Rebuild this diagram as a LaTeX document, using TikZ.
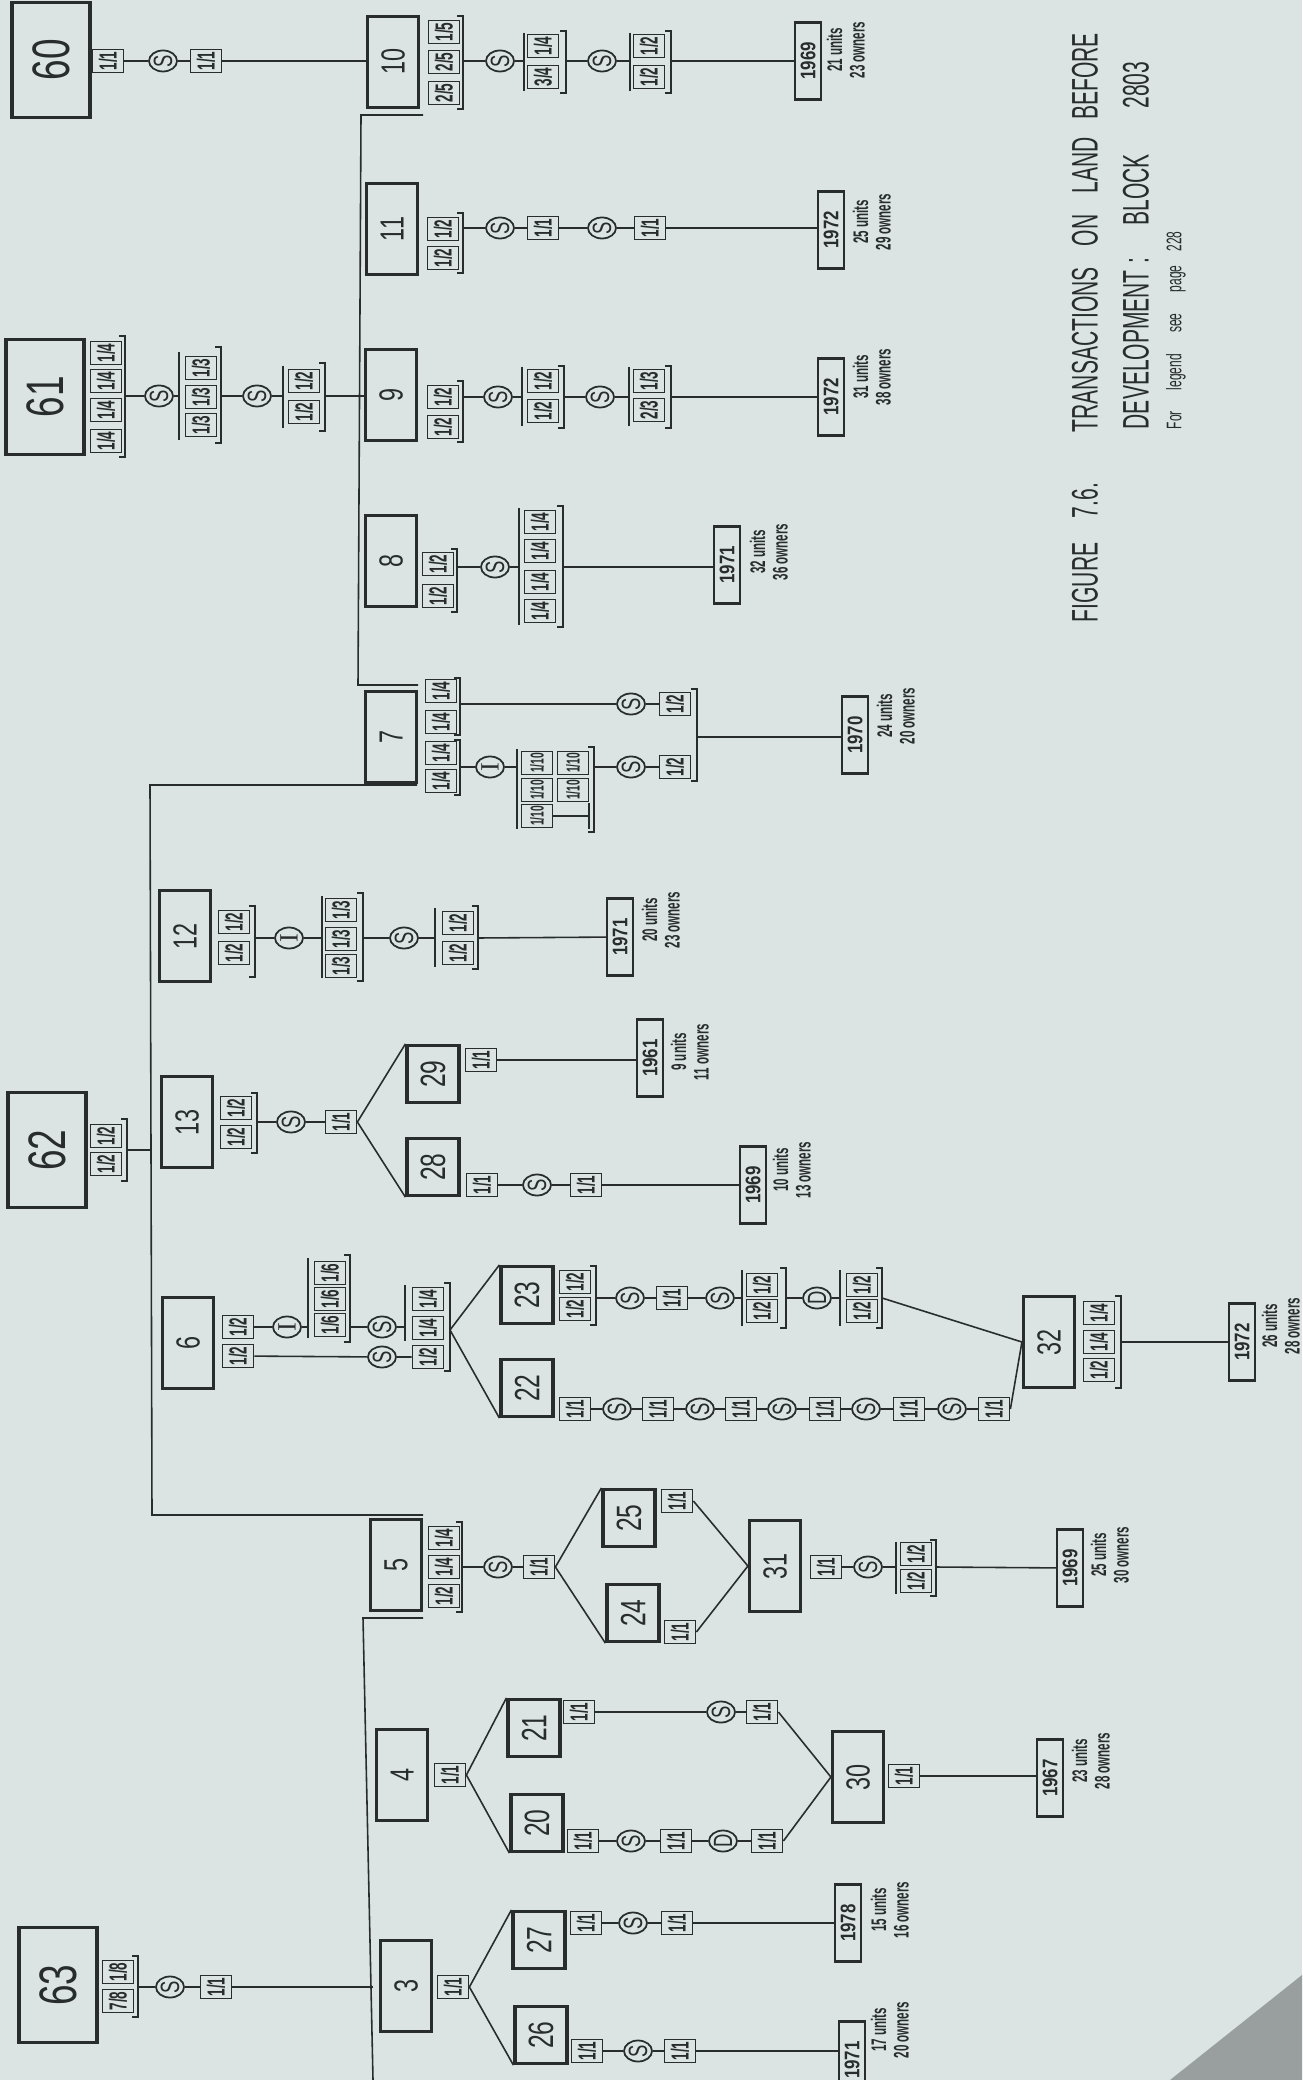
\documentclass[tikz,border=0pt]{standalone}
\usepackage{fontspec}
\setmainfont{Liberation Sans}
\newfontfamily\numfont[FakeStretch=0.7]{Liberation Sans}
\newfontfamily\fracfont[FakeStretch=0.55]{Liberation Sans}
\newfontfamily\yearfont[FakeStretch=0.8]{Liberation Sans}
\newfontfamily\titlefont[FakeStretch=0.57]{Liberation Sans}
\newfontfamily\serfont{Liberation Serif}
\usetikzlibrary{shapes.geometric}

\definecolor{paper}{RGB}{219,227,227}
\definecolor{ink}{RGB}{40,44,44}

% fraction groups: bar in front, bracket behind
\newcommand{\grpleft}[3]{\draw (#1,#2) -- (#1,#3);}
\newcommand{\grpright}[3]{\draw (#1-6,#2) -- (#1,#2) -- (#1,#3) -- (#1-6,#3);}

\tikzset{
  bigbox/.style={draw=ink,line width=1.1pt,rotate=90,minimum width=1.15cm,minimum height=0.78cm,
    font=\fontsize{15}{15}\selectfont\numfont},
  plotbox/.style={draw=ink,line width=0.6pt,rotate=90,minimum width=0.91cm,minimum height=0.51cm,
    font=\fontsize{9.5}{9.5}\selectfont\numfont},
  lotbox/.style={draw=ink,line width=0.9pt,rotate=90,minimum width=0.57cm,minimum height=0.52cm,
    font=\fontsize{10}{10}\selectfont\numfont},
  frac/.style={draw=ink,line width=0.5pt,rotate=90,inner sep=0.5pt,minimum width=0.23cm,minimum height=0.31cm,
    font=\fontsize{7}{7}\selectfont\fracfont\bfseries},
  tenth/.style={frac,inner sep=0pt,font=\fontsize{5.3}{5.3}\selectfont\fracfont\bfseries},
  event/.style={draw=ink,line width=0.5pt,ellipse,rotate=90,inner sep=0pt,minimum width=0.21cm,minimum height=0.28cm,
    font=\fontsize{7.5}{7.5}\selectfont\numfont},
  yearbox/.style={draw=ink,line width=0.6pt,rotate=90,inner sep=0pt,minimum width=0.77cm,minimum height=0.26cm,
    font=\fontsize{6}{6}\selectfont\yearfont\bfseries},
  note/.style={rotate=90,anchor=north,inner sep=0pt,align=center,
    font=\fontsize{6}{6.4}\selectfont\fracfont\bfseries},
  caption/.style={rotate=90,anchor=west,inner sep=0pt,font=\fontsize{10.5}{10.5}\selectfont\titlefont}
}

\begin{document}
\begin{tikzpicture}[x=0.01cm,y=-0.01cm,line width=0.45pt,color=ink]
\useasboundingbox (0,0) rectangle (1302,2080);
\fill[paper] (0,0) rectangle (1302,2080);
\fill[paper!70!black] (1170,2080) -- (1302,1975) -- (1302,2080) -- cycle;
\clip (0,0) rectangle (1302,2080);

% ---- 60 -> 10
\node[bigbox] (b60) at (51,60) {60};
\node[frac] (f60a) at (108,61) {1/1};
\node[event] (s60) at (163,61) {S};
\node[frac] (f60b) at (206,61) {1/1};
\node[plotbox] (b10) at (393,62) {10};
\draw (f60a) -- (s60) -- (f60b) -- (f60b -| b10.north);

\node[frac] (f10a) at (444,93) {2/5};
\node[frac] (f10b) at (444,62) {2/5};
\node[frac] (f10c) at (444,32) {1/5};
\grpright{463}{16}{109}
\coordinate (g10a) at (463,61);
\node[event] (s10a) at (500,61) {S};
\node[frac] (f10d) at (543,77) {3/4};
\node[frac] (f10e) at (543,46) {1/4};
\grpleft{524}{33}{91} \grpright{566}{31}{93}
\coordinate (g10b-in) at (524,61); \coordinate (g10b-out) at (566,61);
\node[event] (s10b) at (602,61) {S};
\node[frac] (f10f) at (649,77) {1/2};
\node[frac] (f10g) at (649,46) {1/2};
\grpleft{630}{33}{91} \grpright{671}{31}{93}
\coordinate (g10c-in) at (630,61); \coordinate (g10c-out) at (671,61);
\node[yearbox] (y10) at (808,61) {1969};
\node[note] (n10) at (826,50) {21 units\\23 owners};
\draw (g10a) -- (s10a) -- (g10b-in);
\draw (g10b-out) -- (s10b) -- (g10c-in);
\draw (g10c-out) -- (y10);

% ---- 11
\node[plotbox] (b11) at (392,229) {11};
\node[frac] (f11a) at (443,229) {1/2};
\node[frac] (f11b) at (443,258) {1/2};
\grpright{463}{213}{273}
\coordinate (g11) at (463,228);
\node[event] (s11a) at (500,228) {S};
\node[frac] (f11c) at (543,228) {1/1};
\node[event] (s11b) at (602,228) {S};
\node[frac] (f11d) at (650,228) {1/1};
\node[yearbox] (y11) at (831,230) {1972};
\node[note] (n11) at (852,222) {25 units\\29 owners};
\draw (g11) -- (s11a) -- (f11c) -- (s11b) -- (f11d) -- (f11d -| y11.north);

% ---- 61 -> 9
\node[bigbox] (b61) at (45,397) {61};
\node[frac] (f61a) at (106,441) {1/4};
\node[frac] (f61b) at (106,410) {1/4};
\node[frac] (f61c) at (106,381) {1/4};
\node[frac] (f61d) at (106,353) {1/4};
\grpright{125}{336}{457}
\coordinate (g61a) at (125,396);
\node[event] (s61a) at (159,396) {S};
\node[frac] (f61e) at (201,425) {1/3};
\node[frac] (f61f) at (201,397) {1/3};
\node[frac] (f61g) at (201,368) {1/3};
\grpleft{179}{352}{440} \grpright{221}{347}{443}
\coordinate (g61b-in) at (179,396); \coordinate (g61b-out) at (221,396);
\node[event] (s61b) at (257,396) {S};
\node[frac] (f61h) at (304,412) {1/2};
\node[frac] (f61i) at (304,381) {1/2};
\grpleft{283}{366}{428} \grpright{325}{363}{431}
\coordinate (g61c-in) at (283,396); \coordinate (g61c-out) at (325,396);
\node[plotbox] (b9) at (391,395) {9};
\draw (g61a) -- (s61a) -- (g61b-in);
\draw (g61b-out) -- (s61b) -- (g61c-in);
\draw (g61c-out) -- (g61c-out -| b9.north);

\node[frac] (f9a) at (443,397) {1/2};
\node[frac] (f9b) at (443,427) {1/2};
\grpright{463}{381}{442}
\coordinate (g9a) at (463,397);
\node[event] (s9a) at (498,397) {S};
\node[frac] (f9c) at (543,411) {1/2};
\node[frac] (f9d) at (543,381) {1/2};
\grpleft{522}{367}{426} \grpright{564}{366}{428}
\coordinate (g9b-in) at (522,397); \coordinate (g9b-out) at (564,397);
\node[event] (s9b) at (600,397) {S};
\node[frac] (f9e) at (649,410) {2/3};
\node[frac] (f9f) at (649,381) {1/3};
\grpleft{629}{367}{426} \grpright{671}{366}{428}
\coordinate (g9c-in) at (629,397); \coordinate (g9c-out) at (671,397);
\node[yearbox] (y9) at (831,397) {1972};
\node[note] (n9) at (852,377) {31 units\\38 owners};
\draw (g9a) -- (s9a) -- (g9b-in);
\draw (g9b-out) -- (s9b) -- (g9c-in);
\draw (g9c-out) -- (y9);

% ---- 8
\node[plotbox] (b8) at (391,561) {8};
\node[frac] (f8a) at (438,564) {1/2};
\node[frac] (f8b) at (438,596) {1/2};
\grpright{457}{549}{612}
\coordinate (g8a) at (457,567);
\node[event] (s8) at (495,567) {S};
\node[frac] (f8c) at (540,611) {1/4};
\node[frac] (f8d) at (540,582) {1/4};
\node[frac] (f8e) at (540,551) {1/4};
\node[frac] (f8f) at (540,522) {1/4};
\grpleft{519}{508}{625} \grpright{563}{506}{627}
\coordinate (g8b-in) at (519,567); \coordinate (g8b-out) at (563,567);
\node[yearbox] (y8) at (727,565) {1971};
\node[note] (n8) at (749,552) {32 units\\36 owners};
\draw (g8a) -- (s8) -- (g8b-in);
\draw (g8b-out) -- (g8b-out -| y8.north);

% ---- trunk 10..7
\coordinate (k10) at (423,115);
\coordinate (t1) at (361,115);
\coordinate (t2) at (358,685);
\coordinate (k7) at (418,685);
\draw (k10) -- (t1) -- (t2) -- (k7);

% ---- 7
\node[plotbox] (b7) at (391,737) {7};
\node[frac] (f7a) at (441,691) {1/4};
\node[frac] (f7b) at (441,722) {1/4};
\node[frac] (f7c) at (441,753) {1/4};
\node[frac] (f7d) at (441,781) {1/4};
\grpright{460}{678}{735} \grpright{460}{740}{795}
\coordinate (g7a) at (460,704);
\coordinate (g7b) at (460,767);
\node[event] (s7a) at (631,704) {S};
\node[frac] (f7e) at (675,704) {1/2};
\node[event] (i7) at (490,767) {\serfont I};
\node[tenth] (f7f) at (537,763) {1/10};
\node[tenth] (f7g) at (537,790) {1/10};
\node[tenth] (f7h) at (537,816) {1/10};
\node[tenth] (f7i) at (573,763) {1/10};
\node[tenth] (f7j) at (573,790) {1/10};
\coordinate (k7h) at (589,816);
\draw (f7h.south) -- (k7h);
\draw (589,803) -- (589,829);
\grpleft{517}{749}{829} \grpright{594}{747}{832}
\coordinate (g7c-in) at (517,767); \coordinate (g7c-out) at (594,767);
\node[event] (s7b) at (631,767) {S};
\node[frac] (f7k) at (675,767) {1/2};
\grpright{697}{689}{781}
\coordinate (g7d) at (697,737);
\node[yearbox] (y7) at (855,735) {1970};
\node[note] (n7) at (876,716) {24 units\\20 owners};
\draw (g7a) -- (s7a) -- (f7e);
\draw (g7b) -- (i7) -- (g7c-in);
\draw (g7c-out) -- (s7b) -- (f7k);
\draw (g7d) -- (g7d -| y7.north);

% ---- trunk 7..5
\coordinate (k7b) at (417,785);
\coordinate (t3) at (150,785);
\coordinate (t4) at (152,1515);
\coordinate (k5) at (423,1515);
\draw (k7b) -- (t3) -- (t4) -- (k5);

% ---- 12
\node[plotbox] (b12) at (185,936) {12};
\node[frac] (f12a) at (234,953) {1/2};
\node[frac] (f12b) at (234,922) {1/2};
\grpright{255}{906}{977}
\coordinate (g12a) at (255,938);
\node[event] (i12) at (289,938) {\serfont I};
\node[frac] (f12c) at (341,966) {1/3};
\node[frac] (f12d) at (341,939) {1/3};
\node[frac] (f12e) at (341,910) {1/3};
\grpleft{322}{896}{978} \grpright{363}{893}{981}
\coordinate (g12b-in) at (322,938); \coordinate (g12b-out) at (363,938);
\node[event] (s12) at (404,938) {S};
\node[frac] (f12f) at (458,953) {1/2};
\node[frac] (f12g) at (458,923) {1/2};
\grpleft{435}{908}{967} \grpright{478}{906}{969}
\coordinate (g12c-in) at (435,938); \coordinate (g12c-out) at (478,938);
\node[yearbox] (y12) at (620,937) {1971};
\node[note] (n12) at (641,920) {20 units\\23 owners};
\draw (g12a) -- (i12) -- (g12b-in);
\draw (g12b-out) -- (s12) -- (g12c-in);
\draw (g12c-out) -- (y12);

% ---- 62
\node[bigbox] (b62) at (47,1150) {62};
\node[frac] (f62a) at (106,1164) {1/2};
\node[frac] (f62b) at (106,1136) {1/2};
\grpright{127}{1119}{1181}
\coordinate (g62) at (127,1150);
\draw (g62) -- (g62 -| t4);

% ---- 13
\node[plotbox] (b13) at (187,1122) {13};
\node[frac] (f13a) at (236,1137) {1/2};
\node[frac] (f13b) at (236,1108) {1/2};
\grpright{257}{1093}{1153}
\coordinate (g13) at (257,1122);
\node[event] (s13) at (291,1122) {S};
\node[frac] (f13c) at (341,1122) {1/1};
\draw (g13) -- (s13) -- (f13c);
\node[lotbox] (b29) at (433,1074) {29};
\node[lotbox] (b28) at (433,1167) {28};
\draw (b29.north east) -- (f13c.south) -- (b28.north west);
\node[frac] (f29) at (481,1060) {1/1};
\node[yearbox] (y29) at (650,1058) {1961};
\node[note] (n29) at (670,1052) {9 units\\11 owners};
\draw (f29) -- (f29 -| y29.north);
\node[frac] (f28a) at (482,1185) {1/1};
\node[event] (s28) at (537,1185) {S};
\node[frac] (f28b) at (586,1185) {1/1};
\node[yearbox] (y28) at (753,1185) {1969};
\node[note] (n28) at (772,1170) {10 units\\13 owners};
\draw (f28a) -- (s28) -- (f28b) -- (y28);

% ---- 6
\node[plotbox] (b6) at (188,1343) {6};
\node[frac] (f6a) at (238,1327) {1/2};
\node[frac] (f6b) at (238,1356) {1/2};
\node[event] (i6) at (287,1327) {\serfont I};
\node[frac] (f6c) at (330,1325) {1/6};
\node[frac] (f6d) at (330,1299) {1/6};
\node[frac] (f6e) at (330,1273) {1/6};
\grpleft{308}{1258}{1338} \grpright{350}{1255}{1342}
\coordinate (g6a-in) at (308,1327); \coordinate (g6a-out) at (350,1327);
\node[event] (s6a) at (382,1327) {S};
\node[frac] (f6f) at (428,1328) {1/4};
\node[frac] (f6g) at (428,1299) {1/4};
\grpleft{405}{1285}{1341}
\coordinate (g6b-in) at (405,1327);
\node[event] (s6b) at (382,1357) {S};
\node[frac] (f6h) at (428,1357) {1/2};
\grpright{450}{1283}{1371}
\coordinate (g6c) at (450,1330);
\draw (f6a) -- (i6) -- (g6a-in);
\draw (g6a-out) -- (s6a) -- (g6b-in);
\draw (f6b) -- (s6b) -- (f6h);
\node[lotbox] (b23) at (527,1295) {23};
\node[lotbox] (b22) at (527,1388) {22};
\draw (b23.north east) -- (g6c) -- (b22.north west);

% ---- 23
\node[frac] (f23a) at (575,1309) {1/2};
\node[frac] (f23b) at (575,1282) {1/2};
\grpright{596}{1266}{1325}
\coordinate (g23a) at (596,1298);
\node[event] (s23a) at (630,1298) {S};
\node[frac] (f23c) at (672,1298) {1/1};
\node[event] (s23b) at (720,1298) {S};
\node[frac] (f23d) at (762,1311) {1/2};
\node[frac] (f23e) at (762,1285) {1/2};
\grpleft{742}{1270}{1326} \grpright{786}{1268}{1328}
\coordinate (g23b-in) at (742,1298); \coordinate (g23b-out) at (786,1298);
\node[event] (d23) at (817,1298) {D};
\node[frac] (f23f) at (862,1311) {1/2};
\node[frac] (f23g) at (862,1285) {1/2};
\grpleft{840}{1270}{1326} \grpright{882}{1268}{1328}
\coordinate (g23c-in) at (840,1298); \coordinate (g23c-out) at (882,1298);
\draw (g23a) -- (s23a) -- (f23c) -- (s23b) -- (g23b-in);
\draw (g23b-out) -- (d23) -- (g23c-in);

% ---- 22
\node[frac] (f22a) at (575,1409) {1/1};
\node[event] (s22a) at (617,1409) {S};
\node[frac] (f22b) at (658,1409) {1/1};
\node[event] (s22b) at (700,1409) {S};
\node[frac] (f22c) at (741,1409) {1/1};
\node[event] (s22c) at (782,1409) {S};
\node[frac] (f22d) at (825,1409) {1/1};
\node[event] (s22d) at (866,1409) {S};
\node[frac] (f22e) at (909,1409) {1/1};
\node[event] (s22e) at (952,1409) {S};
\node[frac] (f22f) at (994,1409) {1/1};
\draw (f22a) -- (s22a) -- (f22b) -- (s22b) -- (f22c) -- (s22c) -- (f22d)
  -- (s22d) -- (f22e) -- (s22e) -- (f22f);

% ---- 32
\node[plotbox,line width=0.9pt] (b32) at (1049,1342) {32};
\draw (g23c-out) -- (b32.north);
\draw (f22f.south) -- (b32.north);
\node[frac] (f32a) at (1099,1370) {1/2};
\node[frac] (f32b) at (1099,1342) {1/4};
\node[frac] (f32c) at (1099,1313) {1/4};
\grpright{1121}{1296}{1388}
\coordinate (g32) at (1121,1342);
\node[yearbox] (y32) at (1242,1342) {1972};
\node[note] (n32) at (1261,1326) {26 units\\28 owners};
\draw (g32) -- (y32);

% ---- 5
\node[plotbox] (b5) at (396,1565) {5};
\node[frac] (f5a) at (444,1596) {1/2};
\node[frac] (f5b) at (444,1567) {1/4};
\node[frac] (f5c) at (444,1538) {1/4};
\grpright{462}{1522}{1612}
\coordinate (g5) at (462,1567);
\node[event] (s5) at (498,1567) {S};
\node[frac] (f5d) at (539,1567) {1/1};
\draw (g5) -- (s5) -- (f5d);
\node[lotbox] (b25) at (629,1518) {25};
\node[lotbox] (b24) at (633,1613) {24};
\draw (b25.north east) -- (f5d.south) -- (b24.north west);
\node[frac] (f25) at (677,1501) {1/1};
\node[frac] (f24) at (680,1632) {1/1};
\node[plotbox,line width=0.9pt] (b31) at (775,1566) {31};
\draw (f25.south) -- (b31.north);
\draw (f24.south) -- (b31.north);
\node[frac] (f31a) at (826,1567) {1/1};
\node[event] (s31) at (868,1567) {S};
\node[frac] (f31b) at (916,1581) {1/2};
\node[frac] (f31c) at (916,1554) {1/2};
\grpleft{896}{1542}{1594} \grpright{936}{1540}{1596}
\coordinate (g31-in) at (896,1567); \coordinate (g31-out) at (936,1567);
\node[yearbox] (y31) at (1070,1568) {1969};
\node[note] (n31) at (1090,1555) {25 units\\30 owners};
\draw (f31a) -- (s31) -- (g31-in);
\draw (g31-out) -- (y31);

% ---- trunk 5..3
\coordinate (k5b) at (423,1618);
\coordinate (t5) at (363,1618);
\coordinate (t6) at (373,2080);
\draw (k5b) -- (t5) -- (t6);
\node[plotbox] (b4) at (402,1775) {4};
\node[plotbox] (b3) at (406,1986) {3};

% ---- 4
\node[frac] (f4) at (450,1775) {1/1};
\node[lotbox] (b21) at (534,1728) {21};
\node[lotbox] (b20) at (537,1823) {20};
\draw (b21.north east) -- (f4.south) -- (b20.north west);
\node[frac] (f21a) at (579,1712) {1/1};
\node[event] (s21) at (721,1712) {S};
\node[frac] (f21b) at (762,1712) {1/1};
\draw (f21a) -- (s21) -- (f21b);
\node[frac] (f20a) at (583,1841) {1/1};
\node[event] (s20) at (631,1841) {S};
\node[frac] (f20b) at (676,1841) {1/1};
\node[event] (d20) at (723,1841) {D};
\node[frac] (f20c) at (767,1841) {1/1};
\draw (f20a) -- (s20) -- (f20b) -- (d20) -- (f20c);
\node[plotbox,line width=0.9pt] (b30) at (858,1777) {30};
\draw (f21b.south) -- (b30.north);
\draw (f20c.south) -- (b30.north);
\node[frac] (f30) at (904,1776) {1/1};
\node[yearbox] (y30) at (1050,1778) {1967};
\node[note] (n30) at (1071,1761) {23 units\\28 owners};
\draw (f30) -- (f30 -| y30.north);

% ---- 63 -> 3
\node[bigbox] (b63) at (58,1985) {63};
\node[frac] (f63a) at (118,2001) {7/8};
\node[frac] (f63b) at (118,1972) {1/8};
\grpright{138}{1956}{2017}
\coordinate (g63) at (138,1987);
\node[event] (s63) at (170,1987) {S};
\node[frac] (f63c) at (216,1987) {1/1};
\draw (g63) -- (s63) -- (f63c) -- (f63c -| t6);

\node[frac] (f3) at (453,1987) {1/1};
\node[lotbox] (b27) at (539,1940) {27};
\node[lotbox] (b26) at (541,2035) {26};
\draw (b27.north east) -- (f3.south) -- (b26.north west);
\node[frac] (f27a) at (586,1923) {1/1};
\node[event] (s27) at (633,1923) {S};
\node[frac] (f27b) at (677,1923) {1/1};
\node[yearbox] (y27) at (848,1923) {1978};
\node[note] (n27) at (870,1910) {15 units\\16 owners};
\draw (f27a) -- (s27) -- (f27b) -- (y27);
\node[frac] (f26a) at (587,2051) {1/1};
\node[event] (s26) at (638,2051) {S};
\node[frac] (f26b) at (680,2051) {1/1};
\node[yearbox] (y26) at (852,2060) {1971};
\node[note] (n26) at (870,2030) {17 units\\20 owners};
\draw (f26a) -- (s26) -- (f26b) -- (f26b -| y26.north);

% ---- caption
\node[caption] (fig) at (1085,623) {FIGURE\hspace{7pt}7.6.};
\node[caption] (title1) at (1085,433) {TRANSACTIONS\hspace{6pt}ON\hspace{6pt}LAND\hspace{5pt}BEFORE};
\node[caption] (title2) at (1136,430) {DEVELOPMENT\hspace{2pt}:\hspace{9pt}BLOCK\hspace{13pt}2803};
\node[caption,font=\fontsize{6}{6}\selectfont\titlefont] (legend) at (1176,430)
  {For\hspace{6pt}legend\hspace{6pt}see\hspace{6pt}page\hspace{4pt}228};
\end{tikzpicture}
\end{document}
